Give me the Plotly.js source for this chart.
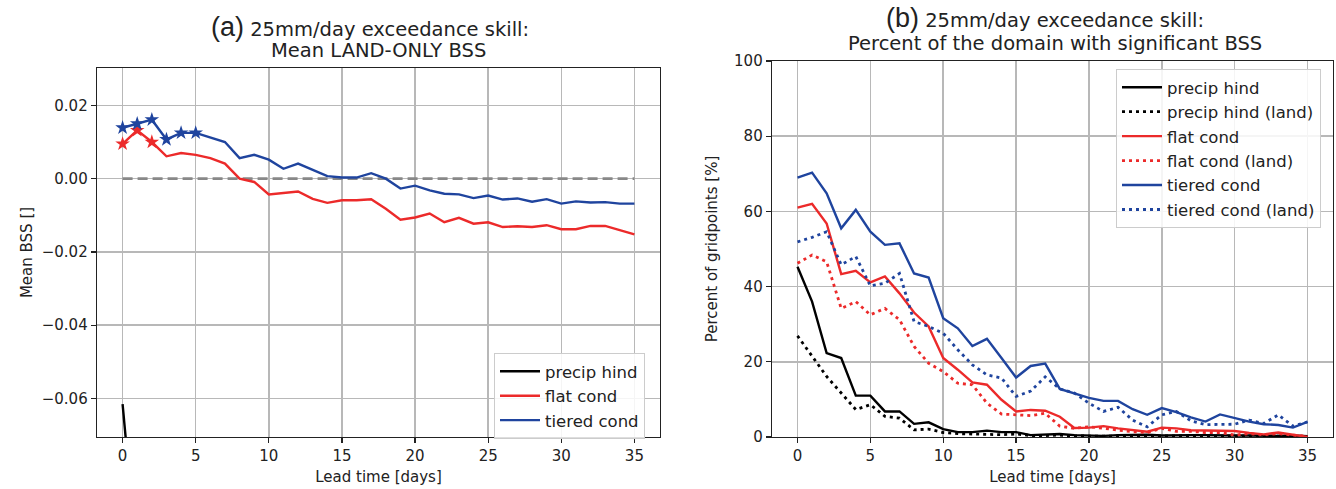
<!DOCTYPE html>
<html>
<head>
<meta charset="utf-8">
<script src="https://cdn.plot.ly/plotly-3.0.1.min.js"></script>
<style>html,body{margin:0;padding:0;background:#fff;}#chart{width:1336px;height:489px;}</style>
</head>
<body>
<div id="chart"></div>
<script>
// ---------- data ----------
const leadDays = [0,1,2,3,4,5,6,7,8,9,10,11,12,13,14,15,16,17,18,19,20,21,22,23,24,25,26,27,28,29,30,31,32,33,34,35];

// Panel (a): mean land-only BSS
const bssPrecipDays = [0, 1];
const bssPrecip = [-0.0615, -0.105];
const bssFlat = [0.0095,0.0132,0.0100,0.0061,0.0070,0.0065,0.0056,0.0041,0.0000,-0.0009,-0.0043,-0.0039,-0.0035,-0.0055,-0.0066,-0.0059,-0.0059,-0.0056,-0.0082,-0.0112,-0.0106,-0.0095,-0.0119,-0.0107,-0.0123,-0.0119,-0.0132,-0.0130,-0.0132,-0.0127,-0.0138,-0.0138,-0.0129,-0.0129,-0.0141,-0.0152];
const bssTiered = [0.0139,0.0150,0.0161,0.0107,0.0125,0.0125,0.0112,0.0100,0.0056,0.0065,0.0052,0.0027,0.0041,0.0023,0.0007,0.0003,0.0003,0.0015,0.0000,-0.0027,-0.0019,-0.0032,-0.0041,-0.0043,-0.0053,-0.0046,-0.0057,-0.0054,-0.0063,-0.0056,-0.0068,-0.0062,-0.0065,-0.0064,-0.0068,-0.0068];
const sigFlatDays = [0,1,2];
const sigTieredDays = [0,1,2,3,4,5];
const zeroLineDays = [0, 35];
const zeroLineVals = [0, 0];

// Panel (b): percent of domain with significant BSS
const pctPrecip = [45.3,36.0,22.3,21.0,11.0,11.0,6.8,6.8,3.5,3.9,2.1,1.3,1.3,1.7,1.3,1.3,0.5,0.7,0.8,0.5,0.3,0.3,0.5,0.5,0.6,0.4,0.5,0.5,0.5,0.4,0.4,0.4,0.3,0.3,0.4,0.2];
const pctPrecipLand = [26.9,21.4,16.1,11.7,7.3,8.6,5.5,5.0,1.9,2.1,1.2,0.9,0.8,0.7,0.6,0.8,0.4,0.4,0.5,0.3,0.2,0.2,0.3,0.3,0.4,0.3,0.3,0.2,0.3,0.3,0.2,0.2,0.2,0.2,0.2,0.1];
const pctFlat = [61.0,62.0,56.8,43.3,44.2,41.1,42.7,38.2,33.1,29.4,21.0,17.9,14.5,13.9,9.9,6.8,7.2,7.0,5.4,2.4,2.5,2.9,2.3,1.8,1.4,2.5,2.3,1.8,1.8,1.6,1.6,1.1,0.7,1.2,0.7,0.0];
const pctFlatLand = [46.2,48.4,46.6,34.2,36.0,32.5,34.2,31.2,24.1,19.6,17.4,14.3,13.9,9.0,6.1,6.0,5.7,6.3,2.9,2.3,2.7,2.3,1.8,1.4,1.2,2.3,1.5,1.5,1.2,1.2,0.5,0.9,0.6,0.9,0.5,0.2];
const pctTiered = [69.0,70.3,64.8,55.5,60.4,54.6,51.1,51.5,43.5,42.4,31.6,28.9,24.2,26.1,21.0,15.8,18.9,19.5,12.8,11.5,10.4,9.6,9.6,7.4,5.9,7.7,6.6,5.2,4.1,6.0,5.0,4.1,3.4,3.2,2.5,4.0];
const pctTieredLand = [51.9,53.1,54.6,45.8,48.0,40.2,40.9,43.5,30.7,29.4,27.6,23.2,19.2,16.5,15.7,10.8,12.2,16.0,12.8,11.7,9.0,6.8,7.9,4.5,2.7,5.9,6.8,4.3,3.3,3.4,3.4,4.5,3.6,5.9,2.9,4.0];

const xTicks = [0,5,10,15,20,25,30,35];
const bssTicks = [-0.06,-0.04,-0.02,0.00,0.02];
const pctTicks = [0,20,40,60,80,100];

// ---------- styles ----------
const BLACK = '#000000', RED = '#ec2a2a', BLUE = '#1f449e';
const LW = 2.4;
const DOT = '3px,4px';
const FONT = 'DejaVu Sans, sans-serif';

function pick(vals, days){ return days.map(d => vals[leadDays.indexOf(d)]); }

const traces = [
  {x: zeroLineDays, y: zeroLineVals, xaxis:'x', yaxis:'y', mode:'lines', line:{color:'#888888', width:2.6, dash:'10px,5px'}, showlegend:false, hoverinfo:'skip'},
  {x: bssPrecipDays, y: bssPrecip, xaxis:'x', yaxis:'y', mode:'lines', name:'precip hind', line:{color:BLACK, width:LW}, legend:'legend'},
  {x: leadDays, y: bssFlat, xaxis:'x', yaxis:'y', mode:'lines', name:'flat cond', line:{color:RED, width:LW}, legend:'legend'},
  {x: leadDays, y: bssTiered, xaxis:'x', yaxis:'y', mode:'lines', name:'tiered cond', line:{color:BLUE, width:LW}, legend:'legend'},
  {x: sigFlatDays, y: pick(bssFlat, sigFlatDays), xaxis:'x', yaxis:'y', mode:'markers', marker:{symbol:'star', size:11, color:RED}, showlegend:false},
  {x: sigTieredDays, y: pick(bssTiered, sigTieredDays), xaxis:'x', yaxis:'y', mode:'markers', marker:{symbol:'star', size:11, color:BLUE}, showlegend:false},

  {x: leadDays, y: pctPrecip, xaxis:'x2', yaxis:'y2', mode:'lines', name:'precip hind', line:{color:BLACK, width:LW}, legend:'legend2'},
  {x: leadDays, y: pctPrecipLand, xaxis:'x2', yaxis:'y2', mode:'lines', name:'precip hind (land)', line:{color:BLACK, width:LW+0.4, dash:DOT}, legend:'legend2'},
  {x: leadDays, y: pctFlat, xaxis:'x2', yaxis:'y2', mode:'lines', name:'flat cond', line:{color:RED, width:LW}, legend:'legend2'},
  {x: leadDays, y: pctFlatLand, xaxis:'x2', yaxis:'y2', mode:'lines', name:'flat cond (land)', line:{color:RED, width:LW+0.4, dash:DOT}, legend:'legend2'},
  {x: leadDays, y: pctTiered, xaxis:'x2', yaxis:'y2', mode:'lines', name:'tiered cond', line:{color:BLUE, width:LW}, legend:'legend2'},
  {x: leadDays, y: pctTieredLand, xaxis:'x2', yaxis:'y2', mode:'lines', name:'tiered cond (land)', line:{color:BLUE, width:LW+0.4, dash:DOT}, legend:'legend2'}
];

const W = 1336, H = 489;
const px = v => v / W, py = v => 1 - v / H;

const axCommon = {
  showline:true, linecolor:'#222', linewidth:1.3, mirror:true,
  ticks:'outside', ticklen:5, tickwidth:1.2, tickcolor:'#222',
  showgrid:true, gridcolor:'#b8b8b8', gridwidth:1.5, zeroline:false,
  tickfont:{family:FONT, size:15, color:'#222'}
};
const axTitleFont = {family:FONT, size:15, color:'#222'};

const layout = {
  width: W, height: H,
  margin:{l:0, r:0, t:0, b:0},
  paper_bgcolor:'#fff', plot_bgcolor:'#fff',
  font:{family:FONT, color:'#222'},
  xaxis: Object.assign({}, axCommon, {domain:[px(97), px(660)], range:[-1.75, 36.75], tickvals:xTicks, anchor:'y',
    title:{text:'Lead time [days]', font:axTitleFont, standoff:7}}),
  yaxis: Object.assign({}, axCommon, {domain:[py(437), py(68)], range:[-0.0705, 0.0302], tickvals:bssTicks, tickformat:'.2f', anchor:'x',
    title:{text:'Mean BSS []', font:axTitleFont, standoff:5}}),
  xaxis2: Object.assign({}, axCommon, {domain:[px(772), px(1333)], range:[-1.75, 36.75], tickvals:xTicks, anchor:'y2',
    title:{text:'Lead time [days]', font:axTitleFont, standoff:7}}),
  yaxis2: Object.assign({}, axCommon, {domain:[py(437), py(61)], range:[0, 100], tickvals:pctTicks, anchor:'x2',
    title:{text:'Percent of gridpoints [%]', font:axTitleFont, standoff:12}}),
  legend: {x:px(494), y:py(353), xanchor:'left', yanchor:'top', bgcolor:'rgba(255,255,255,0.85)', bordercolor:'#cccccc', borderwidth:1,
    font:{family:FONT, size:16.5, color:'#222'}, tracegroupgap:0, itemwidth:40},
  legend2: {x:px(1116), y:py(69), xanchor:'left', yanchor:'top', bgcolor:'rgba(255,255,255,0.85)', bordercolor:'#cccccc', borderwidth:1,
    font:{family:FONT, size:16.5, color:'#222'}, tracegroupgap:0, itemwidth:40},
  showlegend:true,
  annotations:[
    {xref:'paper', yref:'paper', x:px(370), y:py(27), xanchor:'center', yanchor:'middle', showarrow:false,
     text:'<span style="font-family:Liberation Sans Narrow, Liberation Sans, sans-serif;font-size:27px">(a)</span> 25mm/day exceedance skill:',
     font:{family:FONT, size:19.5, color:'#222'}},
    {xref:'paper', yref:'paper', x:px(378), y:py(50), xanchor:'center', yanchor:'middle', showarrow:false,
     text:'Mean LAND-ONLY BSS', font:{family:FONT, size:19.5, color:'#222'}},
    {xref:'paper', yref:'paper', x:px(1045), y:py(18), xanchor:'center', yanchor:'middle', showarrow:false,
     text:'<span style="font-family:Liberation Sans Narrow, Liberation Sans, sans-serif;font-size:27px">(b)</span> 25mm/day exceedance skill:',
     font:{family:FONT, size:19.5, color:'#222'}},
    {xref:'paper', yref:'paper', x:px(1055), y:py(43), xanchor:'center', yanchor:'middle', showarrow:false,
     text:'Percent of the domain with significant BSS', font:{family:FONT, size:19.5, color:'#222'}}
  ]
};

Plotly.newPlot('chart', traces, layout, {staticPlot:true, displayModeBar:false});
</script>
</body>
</html>
